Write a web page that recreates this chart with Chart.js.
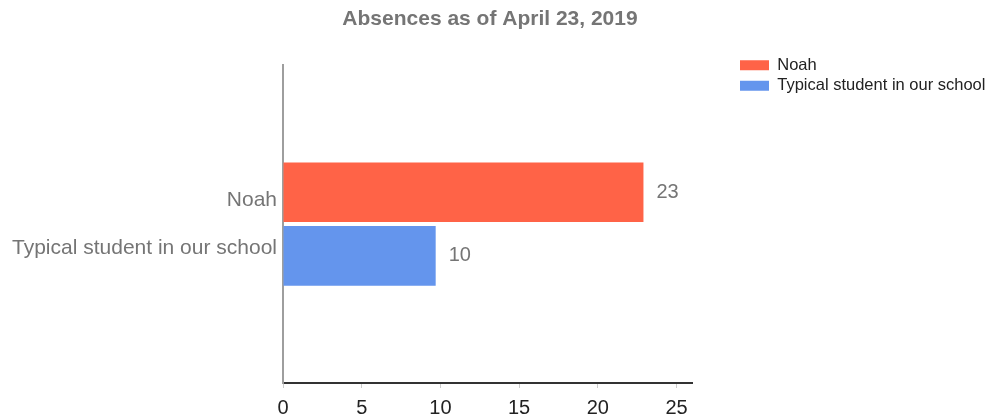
<!DOCTYPE html>
<html>
<head>
<meta charset="utf-8">
<title>Absences as of April 23, 2019</title>
<script src="https://cdn.jsdelivr.net/npm/chart.js"></script>
<style>
  html, body { margin: 0; padding: 0; background: #fff; }
  canvas { display: block; }
</style>
</head>
<body>
<canvas id="chart" width="991" height="419"></canvas>
<script>
'use strict';

let canvasElem = document.getElementById('chart');

// series names are also the two lines of the single y axis label
let seriesNames = ['Noah', 'Typical student in our school'];
let noahAbsences = [22.9];
let typicalAbsences = [9.7];
let xTicks = [0, 5, 10, 15, 20, 25];
let xMax = 26;

const FONT = '"Liberation Sans", Arial, sans-serif';

// numbers written just right of each bar
const barValues = {
  id: 'barValues',
  afterDatasetsDraw(chart) {
    let ctx = chart.ctx;
    ctx.save();
    ctx.font = '20px ' + FONT;
    ctx.fillStyle = '#757575';
    ctx.textAlign = 'left';
    ctx.textBaseline = 'middle';
    chart.data.datasets.forEach((ds, i) => {
      chart.getDatasetMeta(i).data.forEach((bar, j) => {
        ctx.fillText(Math.round(ds.data[j]), bar.x + 13, bar.y);
      });
    });
    ctx.restore();
  }
};

// push the legend away from the plot and re-centre the title, like the original
const layoutNudge = {
  id: 'layoutNudge',
  afterLayout(chart) {
    let lg = chart.legend;
    let dy = 53 - lg.top;
    lg.left = 736;
    lg.right = chart.width;
    lg.width = lg.right - lg.left;
    lg.top += dy;
    lg.bottom += dy;

    let tb = chart.titleBlock;
    tb.left = 0;
    tb.right = 980;
    tb.width = 980;
  }
};

function renderChart() {
  new Chart(canvasElem, {
    type: 'bar',
    data: {
      labels: [seriesNames],
      datasets: [{
        label: seriesNames[0],
        data: noahAbsences,
        backgroundColor: '#ff6347',
        barPercentage: 0.9375,
        categoryPercentage: 0.4
      }, {
        label: seriesNames[1],
        data: typicalAbsences,
        backgroundColor: '#6495ed',
        barPercentage: 0.9375,
        categoryPercentage: 0.4
      }]
    },
    options: {
      indexAxis: 'y',
      responsive: false,
      animation: false,
      layout: {
        padding: { left: 0, right: 68, top: 0, bottom: 0 }
      },
      plugins: {
        title: {
          display: true,
          text: 'Absences as of April 23, 2019',
          color: '#757575',
          font: { family: FONT, size: 21, weight: 'bold' },
          padding: { top: 7, bottom: 33 }
        },
        legend: {
          position: 'right',
          align: 'start',
          labels: {
            boxWidth: 29,
            boxHeight: 10,
            padding: 4,
            color: '#222',
            font: { family: FONT, size: 16.5 }
          }
        },
        tooltip: { enabled: false }
      },
      scales: {
        x: {
          min: 0,
          max: xMax,
          afterBuildTicks: (scale) => {
            scale.ticks = xTicks.map(v => ({ value: v }));
          },
          afterFit: (scale) => {
            scale.height = 36;
          },
          grid: {
            drawOnChartArea: false,
            drawTicks: true,
            tickLength: 5,
            color: '#cccccc'
          },
          border: { display: true, color: '#333333', width: 2 },
          ticks: {
            color: '#222222',
            padding: 8,
            font: { family: FONT, size: 20 }
          }
        },
        y: {
          afterFit: (scale) => {
            // plot starts at x=283, and the tall two-line label should not pad the plot
            scale.width = 283;
            scale.paddingTop = 0;
            scale.paddingBottom = 0;
          },
          grid: { display: false, drawTicks: false },
          border: { display: true, color: '#9e9e9e', width: 2 },
          ticks: {
            color: '#757575',
            padding: 6,
            font: { family: FONT, size: 21, lineHeight: 2.29 }
          }
        }
      }
    },
    plugins: [barValues, layoutNudge]
  });
}

renderChart();
</script>
</body>
</html>
